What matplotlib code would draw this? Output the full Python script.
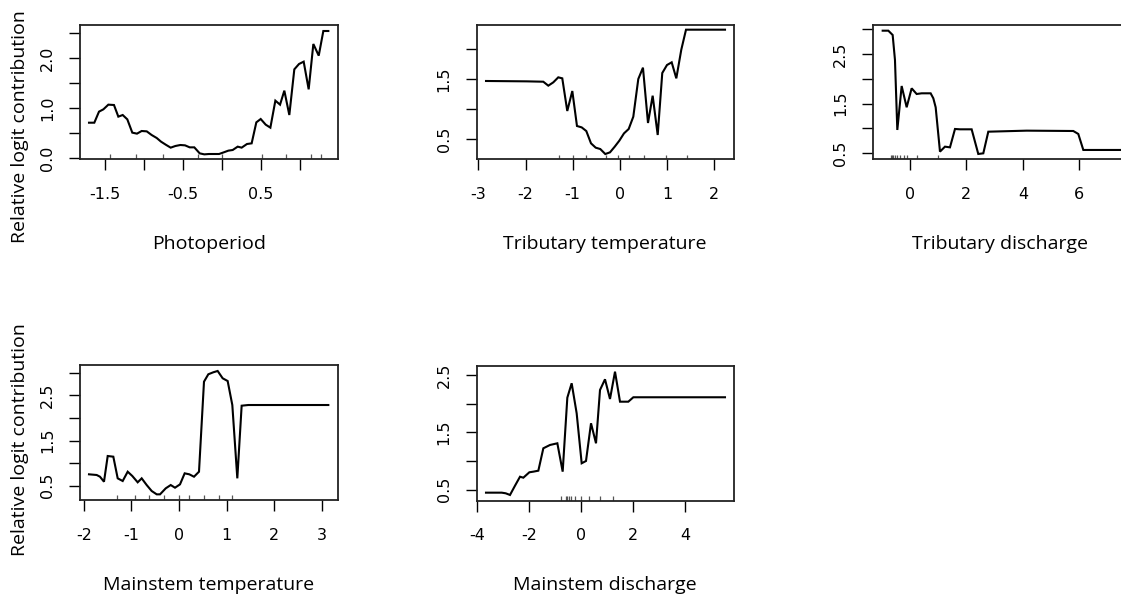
import matplotlib
matplotlib.use("Agg")
import matplotlib.pyplot as plt

plt.rcParams['axes.unicode_minus'] = False

# ---------------- data ----------------
photo_x = [-1.705, -1.637, -1.577, -1.521, -1.457, -1.385, -1.329, -1.273, -1.214, -1.15, -1.09, -1.03,
           -0.965, -0.902, -0.837, -0.782, -0.722, -0.658, -0.598, -0.534, -0.474, -0.414, -0.355, -0.286,
           -0.227, -0.167, -0.103, -0.038, 0.022, 0.081, 0.137, 0.201, 0.252, 0.32, 0.38, 0.44, 0.496,
           0.56, 0.62, 0.684, 0.744, 0.799, 0.863, 0.927, 0.987, 1.047, 1.111, 1.171, 1.24, 1.299, 1.363]
photo_y = [0.706, 0.706, 0.927, 0.973, 1.067, 1.06, 0.827, 0.86, 0.773, 0.507, 0.487, 0.54,
           0.533, 0.46, 0.40, 0.327, 0.267, 0.207, 0.24, 0.26, 0.253, 0.213, 0.213, 0.093,
           0.073, 0.08, 0.08, 0.08, 0.113, 0.147, 0.16, 0.227, 0.207, 0.28, 0.293, 0.713, 0.78,
           0.667, 0.607, 1.147, 1.067, 1.347, 0.86, 1.773, 1.88, 1.927, 1.373, 2.28, 2.047, 2.54, 2.54]
photo_rug = [-1.436, -1.107, -0.761, -0.304, 0.004, 0.509, 0.821, 1.141, 1.265]

ttemp_x = [-2.84, -1.977, -1.624, -1.518, -1.412, -1.306, -1.221, -1.115, -1.008, -0.909, -0.809, -0.711,
           -0.611, -0.512, -0.414, -0.308, -0.208, -0.108, -0.01, 0.089, 0.189, 0.287, 0.393, 0.492,
           0.599, 0.698, 0.805, 0.902, 1.002, 1.102, 1.2, 1.306, 1.406, 2.234]
ttemp_y = [1.467, 1.461, 1.455, 1.389, 1.444, 1.528, 1.511, 0.967, 1.30, 0.717, 0.694, 0.633,
           0.428, 0.356, 0.333, 0.25, 0.278, 0.372, 0.472, 0.594, 0.667, 0.872, 1.50, 1.689,
           0.767, 1.222, 0.567, 1.60, 1.733, 1.778, 1.511, 1.989, 2.322, 2.322]
ttemp_rug = [-1.30, -1.0, -0.72, -0.30, -0.03, 0.19, 0.51, 0.985, 1.42]

tdis_x = [-0.968, -0.768, -0.614, -0.532, -0.449, -0.295, -0.118, 0.059, 0.236, 0.413, 0.732, 0.827,
          0.91, 1.063, 1.24, 1.417, 1.595, 1.772, 2.185, 2.42, 2.598, 2.775, 4.134, 5.787, 5.964,
          6.142, 7.55]
tdis_y = [2.976, 2.976, 2.889, 2.383, 0.966, 1.856, 1.425, 1.809, 1.694, 1.708, 1.708, 1.607,
          1.425, 0.527, 0.628, 0.614, 0.986, 0.979, 0.979, 0.48, 0.493, 0.931, 0.952, 0.945, 0.885,
          0.561, 0.561]
tdis_rug = [-0.685, -0.635, -0.585, -0.532, -0.472, -0.35, -0.22, -0.105, 0.236, 1.01]

mtemp_x = [-1.891, -1.729, -1.66, -1.576, -1.498, -1.38, -1.288, -1.183, -1.078, -0.981, -0.868, -0.784,
           -0.679, -0.574, -0.468, -0.399, -0.279, -0.174, -0.084, 0.021, 0.119, 0.217, 0.315, 0.42,
           0.525, 0.616, 0.721, 0.812, 0.917, 1.022, 1.12, 1.225, 1.316, 1.456, 3.137]
mtemp_y = [0.752, 0.737, 0.699, 0.588, 1.157, 1.142, 0.663, 0.604, 0.81, 0.715, 0.575, 0.663,
           0.515, 0.383, 0.309, 0.309, 0.442, 0.515, 0.456, 0.53, 0.774, 0.752, 0.699, 0.81,
           2.801, 2.965, 3.009, 3.038, 2.876, 2.816, 2.285, 0.663, 2.27, 2.285, 2.285]
mtemp_rug = [-1.31, -0.93, -0.62, -0.32, 0.0, 0.217, 0.525, 0.85, 1.12]

mdis_x = [-3.654, -3.05, -2.897, -2.731, -2.538, -2.346, -2.218, -1.987, -1.833, -1.641, -1.449, -1.192,
          -0.91, -0.705, -0.526, -0.359, -0.167, 0.026, 0.192, 0.385, 0.577, 0.731, 0.923, 1.115,
          1.308, 1.5, 1.82, 2.013, 5.538]
mdis_y = [0.448, 0.448, 0.437, 0.408, 0.57, 0.726, 0.709, 0.803, 0.814, 0.831, 1.221, 1.279,
          1.308, 0.814, 2.103, 2.354, 1.831, 0.96, 1.0, 1.657, 1.308, 2.237, 2.423, 2.08,
          2.556, 2.033, 2.033, 2.11, 2.11]
mdis_rug = [-0.782, -0.59, -0.526, -0.462, -0.385, -0.231, -0.013, 0.32, 0.731, 1.218]

x_titles = ["Photoperiod", "Tributary temperature", "Tributary discharge",
            "Mainstem temperature", "Mainstem discharge"]
y_title = "Relative logit contribution"

# ---------------- layout ----------------
W, H = 1121, 603
fig = plt.figure(figsize=(W / 100, H / 100), dpi=100)
fig.patch.set_facecolor('white')

TICK_FONT = dict(family='DejaVu Sans', size=11.5)
LAB_FONT = ['Open Sans', 'DejaVu Sans']


def add_ax(l, t, r, b):
    return fig.add_axes([l / W, 1 - b / H, (r - l) / W, (b - t) / H])


def style(ax, xticks, xlabs, yticks, ylabs, xlim, ylim):
    ax.set_xlim(*xlim)
    ax.set_ylim(*ylim)
    ax.set_xticks(xticks)
    ax.set_xticklabels(xlabs, fontdict=TICK_FONT)
    ax.set_yticks(yticks)
    ax.set_yticklabels(ylabs, fontdict=TICK_FONT, rotation=90, va='center')
    ax.tick_params(axis='x', length=8, width=1.0, pad=12, color='black')
    ax.tick_params(axis='y', length=8, width=1.0, pad=10, color='black')
    for s in ax.spines.values():
        s.set_linewidth(1.3)
        s.set_color('#222222')


def draw(ax, x, y, rug):
    ax.plot(x, y, color='black', lw=1.5, solid_joinstyle='miter')
    ax.vlines(rug, 0, 0.035, transform=ax.get_xaxis_transform(), color='#555555', lw=0.9)


# Panel 1
ax1 = add_ax(80, 25, 338, 159)
draw(ax1, photo_x, photo_y, photo_rug)
style(ax1, [-1.5, -1.0, -0.5, 0.0, 0.5, 1.0], ['-1.5', '', '-0.5', '', '0.5', ''],
      [0, 0.5, 1.0, 1.5, 2.0, 2.5], ['0.0', '', '1.0', '', '2.0', ''],
      (-1.8205, 1.487), (-0.02, 2.66))

# Panel 2
ax2 = add_ax(476.7, 25, 734, 159.3)
draw(ax2, ttemp_x, ttemp_y, ttemp_rug)
style(ax2, [-3, -2, -1, 0, 1, 2], ['-3', '-2', '-1', '0', '1', '2'],
      [0.5, 1.0, 1.5, 2.0], ['0.5', '', '1.5', ''],
      (-3.038, 2.425), (0.162, 2.40))

# Panel 3 (extends past the right edge of the image)
ax3 = add_ax(873.3, 25, 1127, 159.3)
draw(ax3, tdis_x, tdis_y, tdis_rug)
style(ax3, [0, 2, 4, 6], ['0', '2', '4', '6'],
      [0.5, 1.0, 1.5, 2.0, 2.5, 3.0], ['0.5', '', '1.5', '', '2.5', ''],
      (-1.30, 7.69), (0.372, 3.091))

# Panel 4
ax4 = add_ax(80, 365, 337.7, 500)
draw(ax4, mtemp_x, mtemp_y, mtemp_rug)
style(ax4, [-2, -1, 0, 1, 2, 3], ['-2', '-1', '0', '1', '2', '3'],
      [0.5, 1.0, 1.5, 2.0, 2.5, 3.0], ['0.5', '', '1.5', '', '2.5', ''],
      (-2.08, 3.334), (0.184, 3.17))

# Panel 5
ax5 = add_ax(476.7, 365.7, 734, 500.7)
draw(ax5, mdis_x, mdis_y, mdis_rug)
style(ax5, [-4, -2, 0, 2, 4], ['-4', '-2', '0', '2', '4'],
      [0.5, 1.0, 1.5, 2.0, 2.5], ['0.5', '', '1.5', '', '2.5'],
      (-4.012, 5.885), (0.308, 2.66))

# axis titles (separate text boxes)
centers = [(209, 244), (605, 244), (1000, 244), (209, 585), (605, 585)]
for (cx, cy), t in zip(centers, x_titles):
    fig.text(cx / W, 1 - cy / H, t, ha='center', va='center', family=LAB_FONT, fontsize=14)

for cy in (127, 440):
    fig.text(20 / W, 1 - cy / H, y_title, ha='center', va='center', rotation=90,
             family=LAB_FONT, fontsize=14)

fig.savefig('out.png', dpi=100)
